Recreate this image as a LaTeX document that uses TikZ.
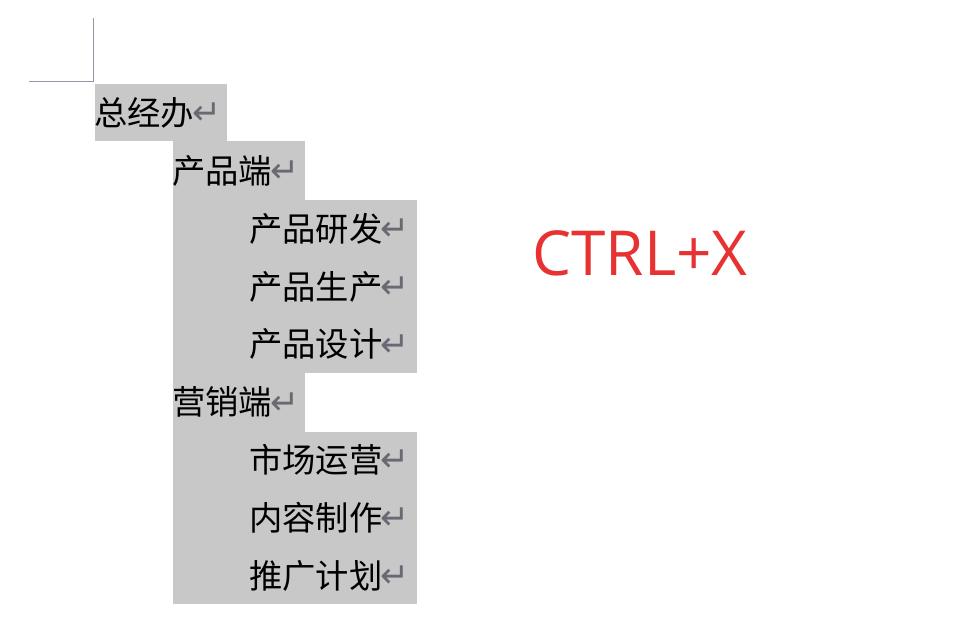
\documentclass[tikz,border=0pt]{standalone}
\usepackage{fontspec}
\newfontfamily\cjk{Noto Sans CJK SC}
\newfontfamily\arrowfont{DejaVu Sans}
\newfontfamily\keyfont{Open Sans}
\usetikzlibrary{calc}

\definecolor{markgray}{RGB}{150,150,168}
\definecolor{hlgray}{RGB}{200,200,201}
\definecolor{retgray}{RGB}{105,105,115}
\definecolor{keyred}{RGB}{232,50,50}

\newcommand{\ret}{{\arrowfont\fontsize{26}{26}\selectfont\color{retgray}\kern-1.5pt\raisebox{0.5pt}{↵}}}

\begin{document}
\begin{tikzpicture}[x=0.75pt, y=-0.75pt,
  para/.style={anchor=west, inner sep=0pt, text height=22pt, text depth=3pt,
    font=\cjk\fontsize{25}{25}\selectfont},
  key/.style={inner sep=0pt, text=keyred, font=\keyfont\fontsize{46.5}{46.5}\selectfont}]

\useasboundingbox (0,0) rectangle (958,638);

% corner mark of the page
\draw[markgray, line width=0.75pt] (93,18) -- (93,82) -- (29,82);

% selected lines
\fill[hlgray] (95,84) rectangle (227,141);
\fill[hlgray] (173,141) rectangle (305,200);
\fill[hlgray] (173,200) rectangle (417,373);
\fill[hlgray] (173,373) rectangle (305,432);
\fill[hlgray] (173,432) rectangle (417,604);

\node[para] (zjb) at (94,113) {总经办\ret};

\node[para] (cpd) at ($(zjb.west) + (78, 57.8)$) {产品端\ret};

\node[para] (yf) at ($(cpd.west) + (77, 57.8)$) {产品研发\ret};

\node[para] (sc) at ($(yf.west) + (0, 57.8)$) {产品生产\ret};

\node[para] (sj) at ($(sc.west) + (0, 57.8)$) {产品设计\ret};

\node[para] (yxd) at ($(cpd.west) + (0, 231.2)$) {营销端\ret};

\node[para] (yy) at ($(yxd.west) + (77, 57.8)$) {市场运营\ret};

\node[para] (nr) at ($(yy.west) + (0, 57.8)$) {内容制作\ret};

\node[para] (tg) at ($(nr.west) + (0, 57.8)$) {推广计划\ret};

\node[key] (ctrlx) at (640,253) {CTRL+X};

\end{tikzpicture}
\end{document}
